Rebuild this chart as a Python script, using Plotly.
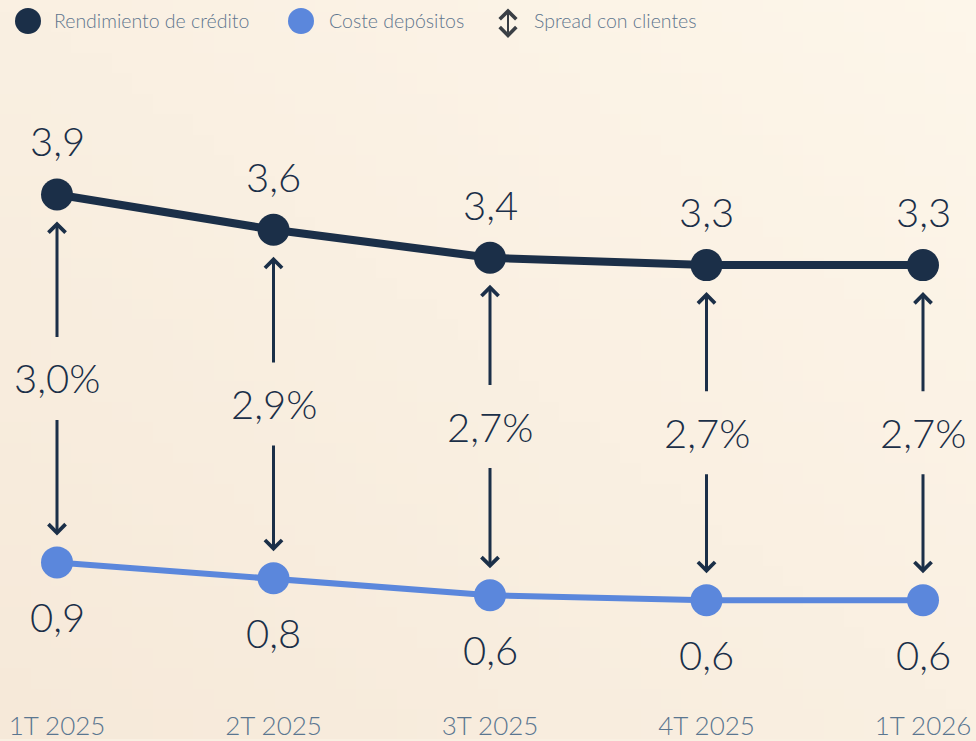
import base64
import struct
import zlib

import plotly.graph_objects as go

categories = ["1T 2025", "2T 2025", "3T 2025", "4T 2025", "1T 2026"]
rendimiento_credito = [3.92, 3.63, 3.40, 3.34, 3.34]
coste_depositos = [0.90, 0.77, 0.63, 0.59, 0.59]
spread_clientes = [3.0, 2.9, 2.7, 2.7, 2.7]

legend_names = ["Rendimiento de crédito", "Coste depósitos", "Spread con clientes"]

NAVY = "#1b2f48"
BLUE = "#5b87dc"
TICK = "#5a7690"
LEG = "#5f768e"
BG = "#f9f0e2"
FONT = "Lato"


def fmt(v, pct=False):
    s = f"{v:.1f}".replace(".", ",")
    return s + ("%" if pct else "")


def gradient_png(w, h, c_tr, c_bl):
    """Small diagonal gradient image used as the page background."""
    rows = b""
    for j in range(h):
        row = b"\x00"
        for i in range(w):
            t = ((1 - i / (w - 1)) + (j / (h - 1))) / 2  # 0 at top-right, 1 at bottom-left
            px = bytes(int(round(a + (b - a) * t)) for a, b in zip(c_tr, c_bl))
            row += px
        rows += row

    def chunk(tag, data):
        c = struct.pack(">I", len(data)) + tag + data
        return c + struct.pack(">I", zlib.crc32(tag + data) & 0xFFFFFFFF)

    png = b"\x89PNG\r\n\x1a\n"
    png += chunk(b"IHDR", struct.pack(">IIBBBBB", w, h, 8, 2, 0, 0, 0))
    png += chunk(b"IDAT", zlib.compress(rows, 9))
    png += chunk(b"IEND", b"")
    return "data:image/png;base64," + base64.b64encode(png).decode()


x = list(range(len(categories)))

fig = go.Figure()
fig.add_trace(go.Scatter(
    x=x, y=rendimiento_credito, mode="lines+markers", name=legend_names[0],
    line=dict(color=NAVY, width=8), marker=dict(color=NAVY, size=32),
    showlegend=False, hoverinfo="skip"))
fig.add_trace(go.Scatter(
    x=x, y=coste_depositos, mode="lines+markers", name=legend_names[1],
    line=dict(color=BLUE, width=6), marker=dict(color=BLUE, size=32),
    showlegend=False, hoverinfo="skip"))

annotations = []
label_font = dict(family=FONT, size=40, color=NAVY, weight=300)
for i in x:
    hi = rendimiento_credito[i]
    lo = coste_depositos[i]
    mid = (hi + lo) / 2
    annotations.append(dict(x=i, y=hi, xref="x", yref="y", text=fmt(hi),
                            showarrow=False, yshift=53, font=label_font))
    annotations.append(dict(x=i, y=lo, xref="x", yref="y", text=fmt(lo),
                            showarrow=False, yshift=-55, font=label_font))
    annotations.append(dict(x=i, y=mid, xref="x", yref="y", text=fmt(spread_clientes[i], True),
                            showarrow=False, font=label_font))
    for target in (hi, lo):
        annotations.append(dict(
            x=i, y=target, xref="x", yref="y", axref="x", ayref="y",
            ax=i, ay=mid, text="", showarrow=True, arrowhead=4,
            arrowwidth=3, arrowsize=1.1, arrowcolor=NAVY,
            standoff=27, startstandoff=40))

# legend (drawn manually)
W, H_TOP = 976, 710
shapes = []
leg_y = 1 - 21 / H_TOP
for cx, col in ((28, NAVY), (301, BLUE)):
    shapes.append(dict(type="circle", xref="paper", yref="paper",
                       xsizemode="pixel", ysizemode="pixel",
                       xanchor=cx / W, yanchor=leg_y,
                       x0=-13, x1=13, y0=-13, y1=13,
                       fillcolor=col, line=dict(width=0)))
leg_font = dict(family=FONT, size=19.5, color=LEG, weight=300)
for tx, name in ((52, legend_names[0]), (327, legend_names[1]), (532, legend_names[2])):
    annotations.append(dict(x=tx / W, y=leg_y, xref="paper", yref="paper",
                            xanchor="left", yanchor="middle", text=name,
                            showarrow=False, font=leg_font))
annotations.append(dict(x=508 / W, y=1 - 38 / H_TOP, xref="paper", yref="paper",
                        ax=0, ay=-31, text="", showarrow=True,
                        arrowside="end+start", arrowhead=4, startarrowhead=4,
                        arrowwidth=2, arrowsize=1.6, startarrowsize=1.6,
                        arrowcolor="#3a3f45"))

# axis scale: top series first point at 195 px, bottom series first point at 564 px
px_per_unit = (564 - 195) / (rendimiento_credito[0] - coste_depositos[0])
ymax = rendimiento_credito[0] + 195 / px_per_unit
ymin = ymax - H_TOP / px_per_unit
xr0 = -57 / 216.5
xr1 = 4 + (W - 923) / 216.5

bg_img = gradient_png(48, 36, (253, 246, 234), (246, 233, 217))

fig.update_layout(
    width=976, height=741,
    margin=dict(l=0, r=0, t=0, b=741 - H_TOP),
    paper_bgcolor=BG, plot_bgcolor="rgba(0,0,0,0)",
    images=[dict(source=bg_img, xref="paper", yref="paper", x=0, y=1,
                 sizex=1, sizey=741 / H_TOP, xanchor="left", yanchor="top",
                 sizing="stretch", layer="below")],
    xaxis=dict(range=[xr0, xr1], tickmode="array", tickvals=x, ticktext=categories,
               showgrid=False, zeroline=False, showline=False, ticks="",
               tickfont=dict(family=FONT, size=26, color=TICK, weight=300), fixedrange=True),
    yaxis=dict(range=[ymin, ymax], visible=False, fixedrange=True),
    annotations=annotations, shapes=shapes, showlegend=False,
)

fig.write_html("out.html", config={"displayModeBar": False},
               post_script="document.body.style.margin='0';document.body.style.overflow='hidden';")
